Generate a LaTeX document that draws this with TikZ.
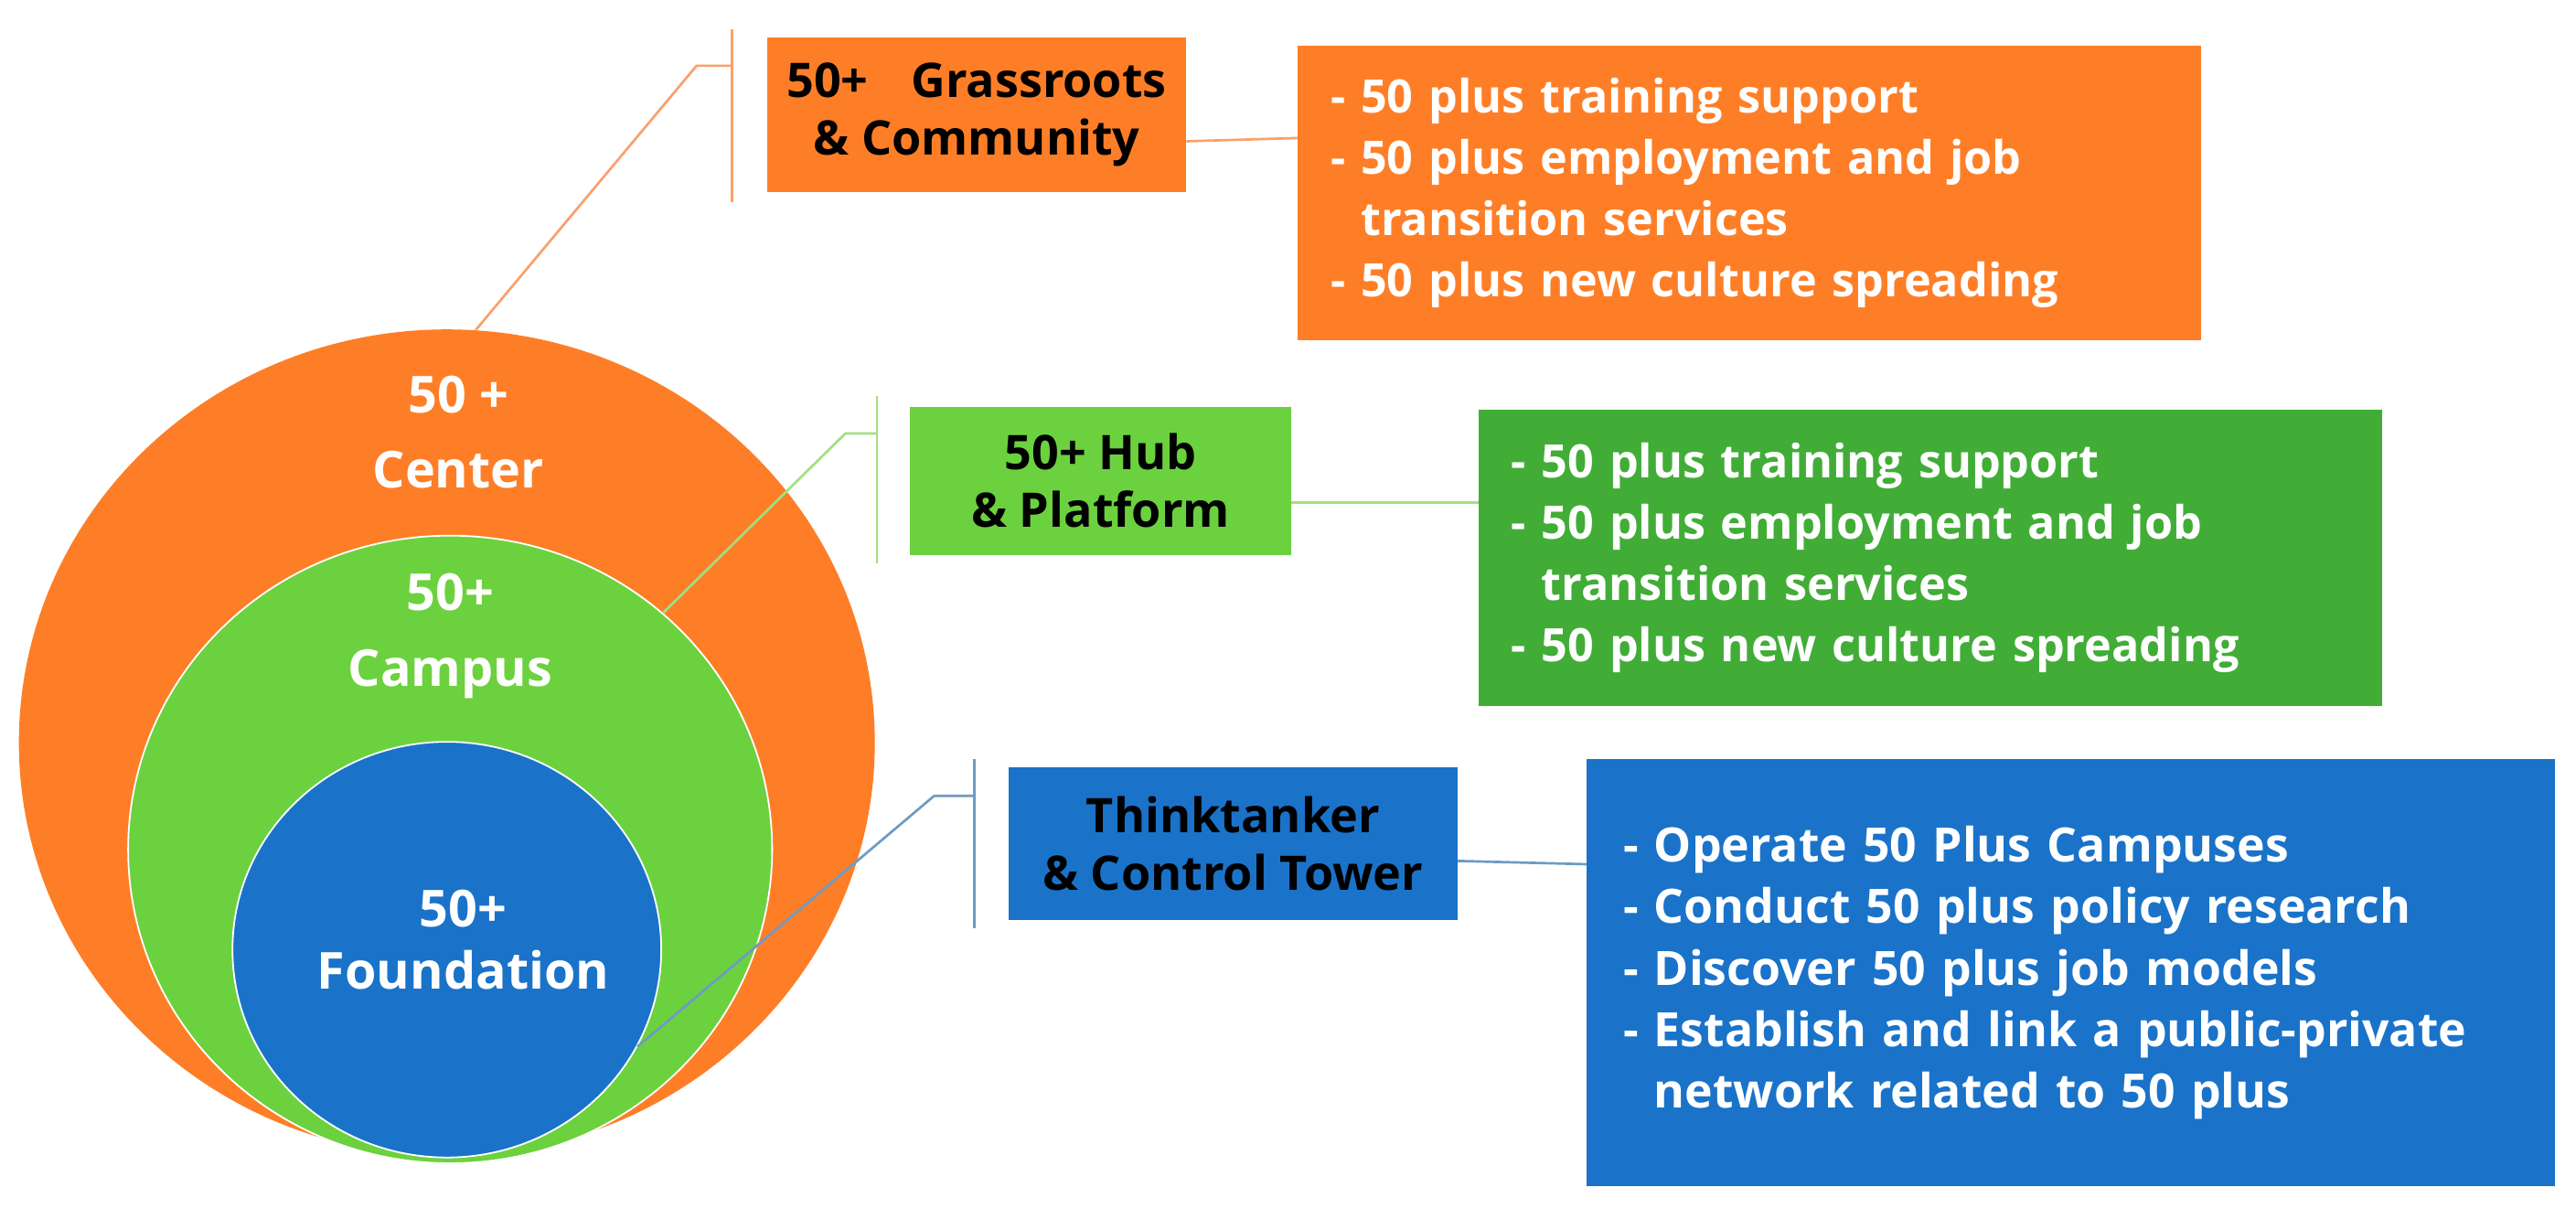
\documentclass[tikz,border=0pt]{standalone}
\usepackage{fontspec}
\setmainfont{Open Sans}
\usetikzlibrary{shapes.geometric}
\definecolor{orng}{HTML}{FE7E27}
\definecolor{lgrn}{HTML}{6CD13E}
\definecolor{dgrn}{HTML}{41AD37}
\definecolor{blu}{HTML}{1A73C9}
\definecolor{oline}{HTML}{F9A26A}
\definecolor{gline}{HTML}{A3DF80}
\definecolor{bline}{HTML}{6E9BC5}
\begin{document}
\begin{tikzpicture}[x=1pt,y=-1pt,
  circ/.style={ellipse,inner sep=0pt},
  circtxt/.style={text=white,font=\bfseries\fontsize{31}{46}\selectfont,align=center},
  titlebox/.style={rectangle,inner sep=0pt,align=center,text=black,font=\bfseries\fontsize{29}{35}\selectfont},
  listbox/.style={rectangle,inner ysep=0pt,inner xsep=20pt,align=left,text=white,font=\bfseries\fontsize{28}{37.3}\selectfont},
  conn/.style={line width=1.5pt}]
\useasboundingbox (0,0) rectangle (1568,735.3);
\fill[white] (0,0) rectangle (1568,735.3);
% circles
\node[circ,fill=orng,minimum width=521pt,minimum height=503pt] (ocirc) at (272,452) {};
\node[circ,fill=lgrn,draw=white,line width=1pt,minimum width=392pt,minimum height=382pt] (gcirc) at (274,517) {};
\node[circ,fill=blu,draw=white,line width=1pt,minimum width=261pt,minimum height=253pt] (bcirc) at (272,578) {};
\node[circtxt] (otxt) at (279,263) {50 +\\Center};
\node[circtxt] (gtxt) at (274,387) {50+\\Campus};
\node[circtxt,font=\bfseries\fontsize{31}{38}\selectfont] (btxt) at (282,572) {50+\\Foundation};
% title boxes
\node[titlebox,fill=orng,minimum width=255pt,minimum height=94pt] (gr) at (594.5,70) {50+\hspace{0.9em}Grassroots\\\& Community};
\node[titlebox,fill=lgrn,minimum width=232pt,minimum height=90pt] (hub) at (670,292.6) {50+ Hub\\\& Platform};
\node[titlebox,fill=blu,minimum width=273pt,minimum height=93pt] (tt) at (750.5,513.5) {Thinktanker\\\& Control Tower};
% list boxes
\node[listbox,fill=orng,text width=510pt,minimum height=179pt] (ocb) at (1065,117.5) {- 50 plus training support\\- 50 plus employment and job\\\phantom{- }transition services\\- 50 plus new culture spreading};
\node[listbox,fill=dgrn,text width=510pt,minimum height=180pt] (gcb) at (1175,339.5) {- 50 plus training support\\- 50 plus employment and job\\\phantom{- }transition services\\- 50 plus new culture spreading};
\node[listbox,fill=blu,inner xsep=22pt,text width=545pt,minimum height=260pt,font=\bfseries\fontsize{28.8}{37.5}\selectfont] (bcb) at (1260.5,592) {- Operate 50 Plus Campuses\\- Conduct 50 plus policy research\\- Discover 50 plus job models\\- Establish and link a public-private\\\phantom{- }network related to 50 plus};
% bracket coordinates
\coordinate (ok) at (424,40);
\coordinate (ob) at (445.5,40);
\coordinate (obt) at (445.5,17.6);
\coordinate (obb) at (445.5,123);
\coordinate (gk) at (514.6,263.8);
\coordinate (gb) at (533.8,263.8);
\coordinate (gbt) at (533.8,241);
\coordinate (gbb) at (533.8,343);
\coordinate (bk) at (568.6,484.4);
\coordinate (bb) at (593,484.4);
\coordinate (bbt) at (593,462);
\coordinate (bbb) at (593,565);
% connectors
\draw[conn,oline] (ocirc.86.7) -- (ok) -- (ob);
\draw[conn,oline] (obt) -- (obb);
\draw[conn,oline] ([yshift=-16pt]gr.east) -- ([yshift=33.5pt]ocb.west);
\draw[conn,gline] (gcirc.48.3) -- (gk) -- (gb);
\draw[conn,gline] (gbt) -- (gbb);
\draw[conn,gline] ([yshift=-13.4pt]hub.east) -- ([yshift=33.5pt]gcb.west);
\draw[conn,bline] (bcirc.-27) -- (bk) -- (bb);
\draw[conn,bline] (bbt) -- (bbb);
\draw[conn,bline] ([yshift=-10.5pt]tt.east) -- ([yshift=66pt]bcb.west);
\end{tikzpicture}
\end{document}
